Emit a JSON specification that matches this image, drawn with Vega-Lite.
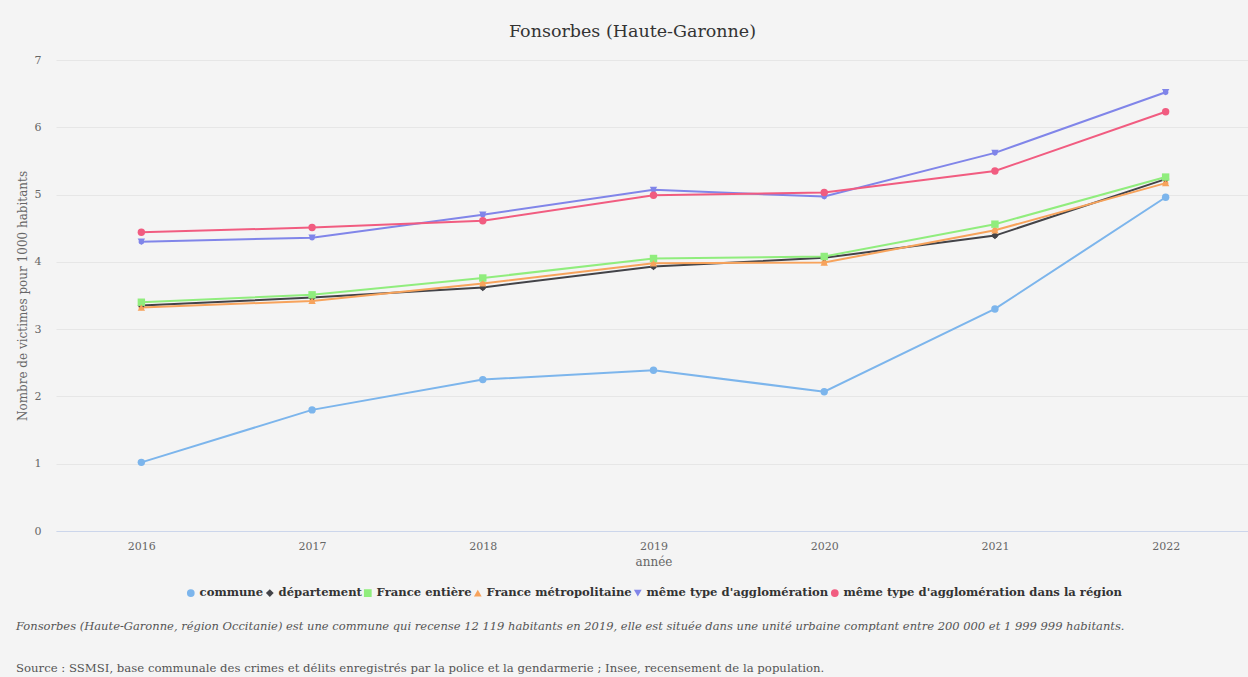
{
  "$schema": "https://vega.github.io/schema/vega-lite/v6.json",
  "background": "#f4f4f4",
  "padding": {"left": 16, "top": 22, "right": 0, "bottom": 4},
  "config": {
    "font": "DejaVu Serif",
    "view": {"stroke": null},
    "axis": {"labelFont": "DejaVu Serif", "titleFont": "DejaVu Serif", "labelColor": "#666666", "titleColor": "#666666", "labelFontSize": 11, "titleFontSize": 12, "titleFontWeight": "normal"},
    "legend": {"labelFont": "DejaVu Serif", "labelFontSize": 11.6, "labelFontWeight": "bold", "labelColor": "#333333", "labelLimit": 0, "layout": {"bottom": {"anchor": "middle"}}}
  },
  "title": {
    "text": "Fonsorbes (Haute-Garonne, région Occitanie) est une commune qui recense 12 119 habitants en 2019, elle est située dans une unité urbaine comptant entre 200 000 et 1 999 999 habitants.",
    "subtitle": "Source : SSMSI, base communale des crimes et délits enregistrés par la police et la gendarmerie ; Insee, recensement de la population.",
    "orient": "bottom",
    "anchor": "start",
    "frame": "bounds",
    "font": "DejaVu Serif",
    "fontSize": 11.5,
    "fontStyle": "italic",
    "fontWeight": "normal",
    "color": "#555555",
    "subtitleFont": "DejaVu Serif",
    "subtitleFontSize": 11.7,
    "subtitleFontStyle": "normal",
    "subtitleColor": "#555555",
    "subtitlePadding": 30,
    "offset": 22,
    "dx": 0
  },
  "vconcat": [
    {
      "title": {"text": "Fonsorbes (Haute-Garonne)", "font": "DejaVu Serif", "fontSize": 17.5, "fontWeight": "normal", "color": "#333333", "anchor": "middle", "dx": -21, "offset": 14},
      "width": 1195,
      "height": 471,
      "data": {
        "values": [
          {"annee": "2016", "serie": "commune", "valeur": 1.02},
          {"annee": "2017", "serie": "commune", "valeur": 1.80},
          {"annee": "2018", "serie": "commune", "valeur": 2.25},
          {"annee": "2019", "serie": "commune", "valeur": 2.39},
          {"annee": "2020", "serie": "commune", "valeur": 2.07},
          {"annee": "2021", "serie": "commune", "valeur": 3.30},
          {"annee": "2022", "serie": "commune", "valeur": 4.96},
          {"annee": "2016", "serie": "département", "valeur": 3.35},
          {"annee": "2017", "serie": "département", "valeur": 3.47},
          {"annee": "2018", "serie": "département", "valeur": 3.62},
          {"annee": "2019", "serie": "département", "valeur": 3.93},
          {"annee": "2020", "serie": "département", "valeur": 4.06},
          {"annee": "2021", "serie": "département", "valeur": 4.39},
          {"annee": "2022", "serie": "département", "valeur": 5.23},
          {"annee": "2016", "serie": "France entière", "valeur": 3.40},
          {"annee": "2017", "serie": "France entière", "valeur": 3.51},
          {"annee": "2018", "serie": "France entière", "valeur": 3.76},
          {"annee": "2019", "serie": "France entière", "valeur": 4.05},
          {"annee": "2020", "serie": "France entière", "valeur": 4.08},
          {"annee": "2021", "serie": "France entière", "valeur": 4.56},
          {"annee": "2022", "serie": "France entière", "valeur": 5.26},
          {"annee": "2016", "serie": "France métropolitaine", "valeur": 3.32},
          {"annee": "2017", "serie": "France métropolitaine", "valeur": 3.42},
          {"annee": "2018", "serie": "France métropolitaine", "valeur": 3.68},
          {"annee": "2019", "serie": "France métropolitaine", "valeur": 3.98},
          {"annee": "2020", "serie": "France métropolitaine", "valeur": 3.99},
          {"annee": "2021", "serie": "France métropolitaine", "valeur": 4.47},
          {"annee": "2022", "serie": "France métropolitaine", "valeur": 5.17},
          {"annee": "2016", "serie": "même type d'agglomération", "valeur": 4.30},
          {"annee": "2017", "serie": "même type d'agglomération", "valeur": 4.36},
          {"annee": "2018", "serie": "même type d'agglomération", "valeur": 4.70},
          {"annee": "2019", "serie": "même type d'agglomération", "valeur": 5.07},
          {"annee": "2020", "serie": "même type d'agglomération", "valeur": 4.97},
          {"annee": "2021", "serie": "même type d'agglomération", "valeur": 5.62},
          {"annee": "2022", "serie": "même type d'agglomération", "valeur": 6.52},
          {"annee": "2016", "serie": "même type d'agglomération dans la région", "valeur": 4.44},
          {"annee": "2017", "serie": "même type d'agglomération dans la région", "valeur": 4.51},
          {"annee": "2018", "serie": "même type d'agglomération dans la région", "valeur": 4.61},
          {"annee": "2019", "serie": "même type d'agglomération dans la région", "valeur": 4.99},
          {"annee": "2020", "serie": "même type d'agglomération dans la région", "valeur": 5.03},
          {"annee": "2021", "serie": "même type d'agglomération dans la région", "valeur": 5.35},
          {"annee": "2022", "serie": "même type d'agglomération dans la région", "valeur": 6.23}
        ]
      },
      "encoding": {
        "x": {
          "field": "annee", "type": "ordinal", "title": "année",
          "scale": {"type": "point", "padding": 0.5},
          "axis": {"labelAngle": 0, "ticks": false, "grid": false, "domainColor": "#ccd6eb", "domainWidth": 1, "labelPadding": 9, "titlePadding": 5}
        },
        "y": {
          "field": "valeur", "type": "quantitative", "title": "Nombre de victimes pour 1000 habitants",
          "scale": {"domain": [0, 7], "nice": false},
          "axis": {"values": [0, 1, 2, 3, 4, 5, 6, 7], "domain": false, "ticks": false, "gridColor": "#e6e6e6", "gridWidth": 1, "labelPadding": 15, "titlePadding": 5}
        },
        "color": {
          "field": "serie", "type": "nominal", "title": null,
          "scale": {
            "domain": ["commune", "département", "France entière", "France métropolitaine", "même type d'agglomération", "même type d'agglomération dans la région"],
            "range": ["#7cb5ec", "#434348", "#90ed7d", "#f7a35c", "#8085e9", "#f15c80"]
          },
          "legend": {"orient": "bottom", "direction": "horizontal", "columns": 6, "columnPadding": 0, "symbolSize": 60, "symbolStrokeWidth": 0, "labelOffset": 3, "offset": 20}
        },
        "shape": {
          "field": "serie", "type": "nominal", "title": null,
          "scale": {
            "domain": ["commune", "département", "France entière", "France métropolitaine", "même type d'agglomération", "même type d'agglomération dans la région"],
            "range": ["circle", "diamond", "square", "triangle-up", "triangle-down", "circle"]
          }
        }
      },
      "layer": [
        {"mark": {"type": "line", "strokeWidth": 2}, "encoding": {"shape": {"value": null}}},
        {"mark": {"type": "point", "filled": true, "size": 55, "opacity": 1}}
      ]
    }
  ]
}
